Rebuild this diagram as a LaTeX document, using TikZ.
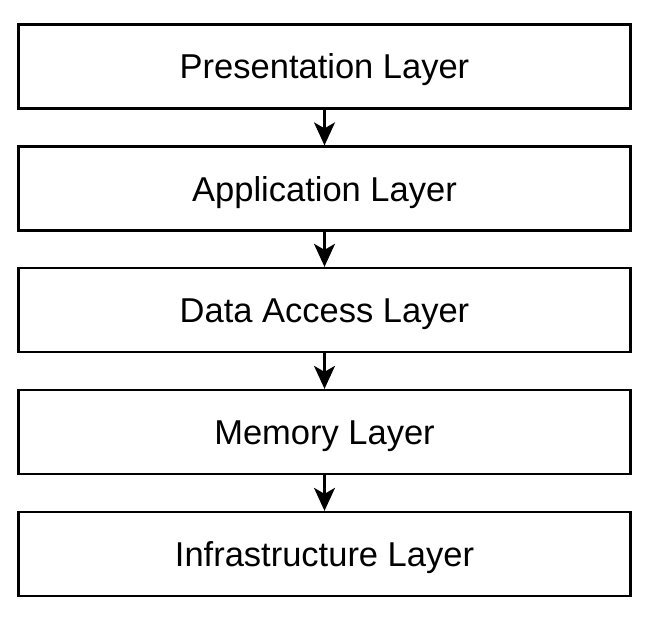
\documentclass[tikz,border=0pt]{standalone}
\usepackage{fontspec}
\setmainfont{Liberation Sans}
\usetikzlibrary{arrows.meta}
\begin{document}
\begin{tikzpicture}[x=1pt,y=-1pt,
  layer/.style={draw=black,line width=2.3pt,minimum width=612pt,minimum height=84pt,inner sep=0pt,text height=25pt,text depth=0pt,font=\fontsize{34.5}{40}\selectfont},
  conn/.style={line width=2.3pt,-{Stealth[length=23pt,width=21pt,inset=6pt]}}]
\useasboundingbox (0,0) rectangle (652,620);
\node[layer] (p) at (324.5,66.5) {Presentation Layer};
\node[layer] (a) at (324.5,188.5) {Application Layer};
\node[layer] (d) at (324.5,310) {Data Access Layer};
\node[layer] (m) at (324.5,432) {Memory Layer};
\node[layer] (i) at (324.5,554) {Infrastructure Layer};
\draw[conn] (p) -- (a);
\draw[conn] (a) -- (d);
\draw[conn] (d) -- (m);
\draw[conn] (m) -- (i);
\end{tikzpicture}
\end{document}
